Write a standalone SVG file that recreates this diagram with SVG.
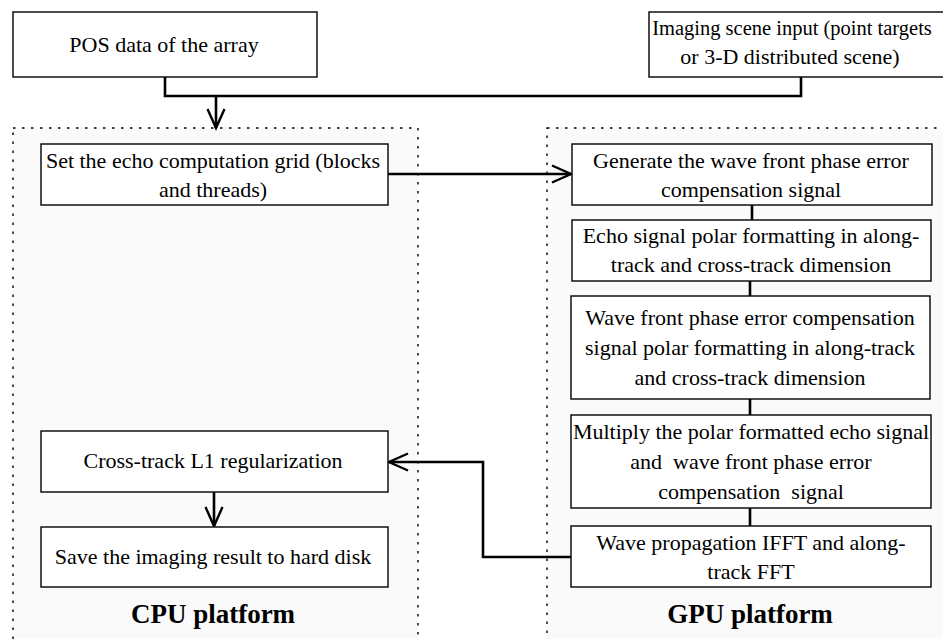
<svg xmlns="http://www.w3.org/2000/svg" width="943" height="639" viewBox="0 0 943 639">
<style>
.box{fill:#ffffff;stroke:#000;stroke-width:1.4}
.plat{fill:#fafafa;stroke:#000;stroke-width:1.4;stroke-dasharray:2.5 6.5}
.t{font-family:"Liberation Serif","Times New Roman",serif;font-size:22px;fill:#000;text-anchor:middle}
.pl{font-family:"Liberation Serif","Times New Roman",serif;font-size:27px;font-weight:bold;fill:#000;text-anchor:middle}
.c{fill:none;stroke:#000;stroke-width:2.6}
</style>
<defs>
<marker id="arr" markerUnits="userSpaceOnUse" markerWidth="24" markerHeight="24" viewBox="-20 -12 24 24" refX="0" refY="0" orient="auto">
<path d="M-19,-8.5 L0,0 L-19,8.5" fill="none" stroke="#000" stroke-width="2.4"/>
</marker>
</defs>
<rect width="943" height="639" fill="#ffffff"/>
<g id="cpu-platform">
<rect class="plat" x="13" y="128" width="405" height="530"/>
<text class="pl" x="213" y="623">CPU platform</text>
</g>
<g id="gpu-platform">
<rect class="plat" x="547" y="128" width="420" height="530"/>
<text class="pl" x="750" y="623">GPU platform</text>
</g>
<g id="connectors">
<path class="c" d="M165,77 L165,96 L801,96 L801,77"/>
<path class="c" d="M216,96 L216,128" marker-end="url(#arr)"/>
<path class="c" d="M388,174 L571,174" marker-end="url(#arr)"/>
<path class="c" d="M752,205 L752,220"/>
<path class="c" d="M750,281 L750,296"/>
<path class="c" d="M750,399 L750,415"/>
<path class="c" d="M750,508 L750,526"/>
<path class="c" d="M571,557 L483,557 L483,462 L389,462" marker-end="url(#arr)"/>
<path class="c" d="M214,492 L214,526" marker-end="url(#arr)"/>
</g>
<g id="pos-data">
<rect class="box" x="13" y="12" width="304" height="65"/>
<text class="t" x="164" y="52">POS data of the array</text>
</g>
<g id="imaging-scene">
<rect class="box" x="649" y="12" width="320" height="65"/>
<text class="t" x="792" y="35" style="font-size:20.5px">Imaging scene input (point targets</text>
<text class="t" x="790" y="64">or 3-D distributed scene)</text>
</g>
<g id="set-grid">
<rect class="box" x="41" y="144" width="347" height="61"/>
<text class="t" x="213" y="168">Set the echo computation grid (blocks</text>
<text class="t" x="213" y="197">and threads)</text>
</g>
<g id="generate">
<rect class="box" x="572" y="144" width="360" height="61"/>
<text class="t" x="751" y="168">Generate the wave front phase error</text>
<text class="t" x="751" y="197">compensation signal</text>
</g>
<g id="echo-polar">
<rect class="box" x="572" y="220" width="359" height="61"/>
<text class="t" x="751" y="243">Echo signal polar formatting in along-</text>
<text class="t" x="751" y="272">track and cross-track dimension</text>
</g>
<g id="wave-polar">
<rect class="box" x="571" y="296" width="359" height="103"/>
<text class="t" x="750" y="325">Wave front phase error compensation</text>
<text class="t" x="750" y="355">signal polar formatting in along-track</text>
<text class="t" x="750" y="385">and cross-track dimension</text>
</g>
<g id="multiply">
<rect class="box" x="571" y="415" width="360" height="93"/>
<text class="t" x="751" y="439">Multiply the polar formatted echo signal</text>
<text class="t" x="751" y="469" xml:space="preserve">and  wave front phase error</text>
<text class="t" x="751" y="499" xml:space="preserve">compensation  signal</text>
</g>
<g id="wave-prop">
<rect class="box" x="571" y="526" width="360" height="61"/>
<text class="t" x="751" y="550">Wave propagation IFFT and along-</text>
<text class="t" x="751" y="579">track FFT</text>
</g>
<g id="cross-track">
<rect class="box" x="41" y="431" width="347" height="61"/>
<text class="t" x="213" y="468">Cross-track L1 regularization</text>
</g>
<g id="save">
<rect class="box" x="41" y="527" width="347" height="60"/>
<text class="t" x="213" y="564">Save the imaging result to hard disk</text>
</g>
</svg>
